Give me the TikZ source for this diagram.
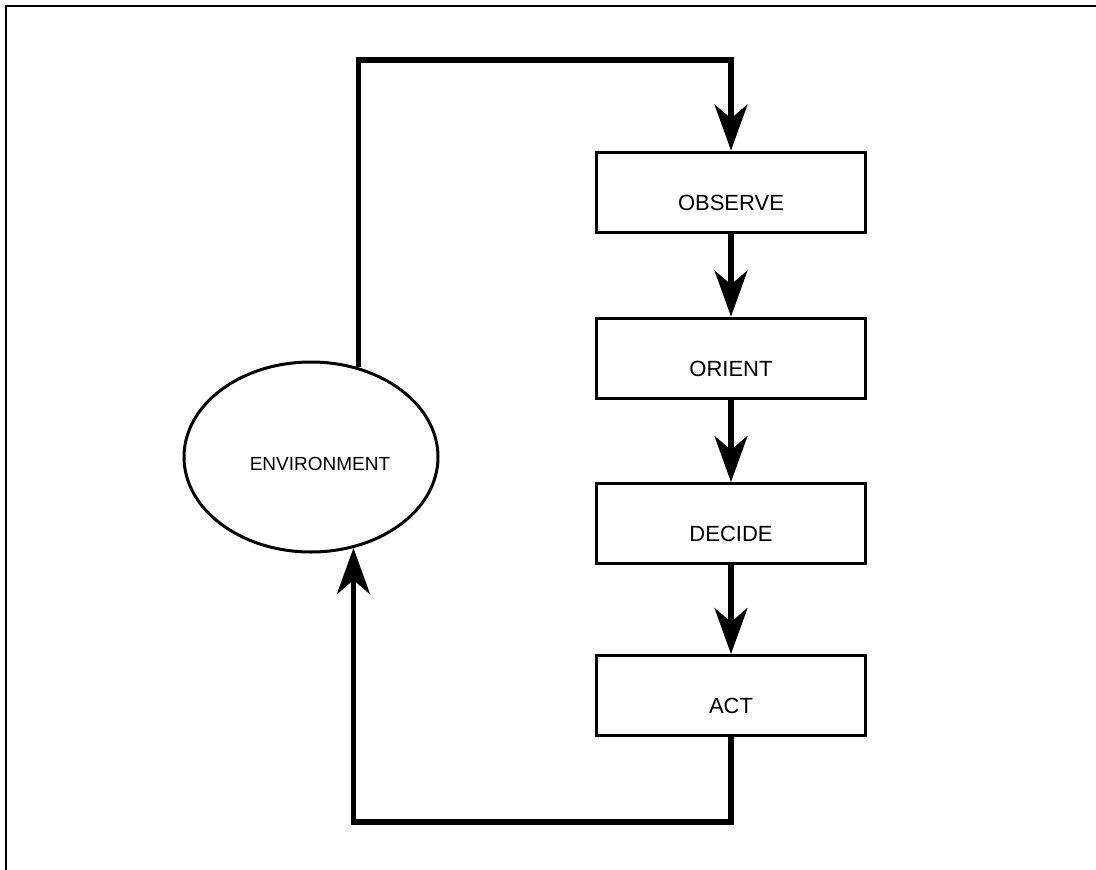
\documentclass[tikz,border=0pt]{standalone}
\usepackage{fontspec}
\setmainfont{Liberation Sans}
\usetikzlibrary{shapes.geometric,arrows.meta}
\begin{document}
\begin{tikzpicture}[x=1pt,y=-1pt,
  stepbox/.style={draw,line width=3pt,minimum width=269pt,minimum height=80pt,inner sep=0pt,
    text height=40pt,text depth=4pt,font=\fontsize{22}{26}\selectfont},
  envnode/.style={draw,ellipse,line width=3pt,minimum width=254pt,minimum height=190pt,inner sep=0pt,
    text height=30pt,text depth=4pt,font=\fontsize{19}{23}\selectfont},
  flow/.style={line width=5.5pt,-{Stealth[length=46pt,width=33pt,inset=14pt]}},
  frame/.style={line width=2.6pt}]
\useasboundingbox (0,0) rectangle (1096,870);
\draw[frame] (6,870) -- (6,6) -- (1096,6);

\node[stepbox] (obs) at (731,192) {OBSERVE};
\node[stepbox] (ori) at (731,358) {ORIENT};
\node[stepbox] (dec) at (731,523.5) {DECIDE};
\node[stepbox] (act) at (731,695.5) {ACT};
\node[envnode] (env) at (311,457) {\hspace*{18pt}ENVIRONMENT};

\coordinate (toprow) at (731,60);
\coordinate (botrow) at (731,822);

\draw[flow] (env.62.6) |- (toprow) -- (obs.north);
\draw[flow] (obs) -- (ori);
\draw[flow] (ori) -- (dec);
\draw[flow] (dec) -- (act);
\draw[flow] (act.south) -- (botrow) -| (env.-65.5);
\end{tikzpicture}
\end{document}
